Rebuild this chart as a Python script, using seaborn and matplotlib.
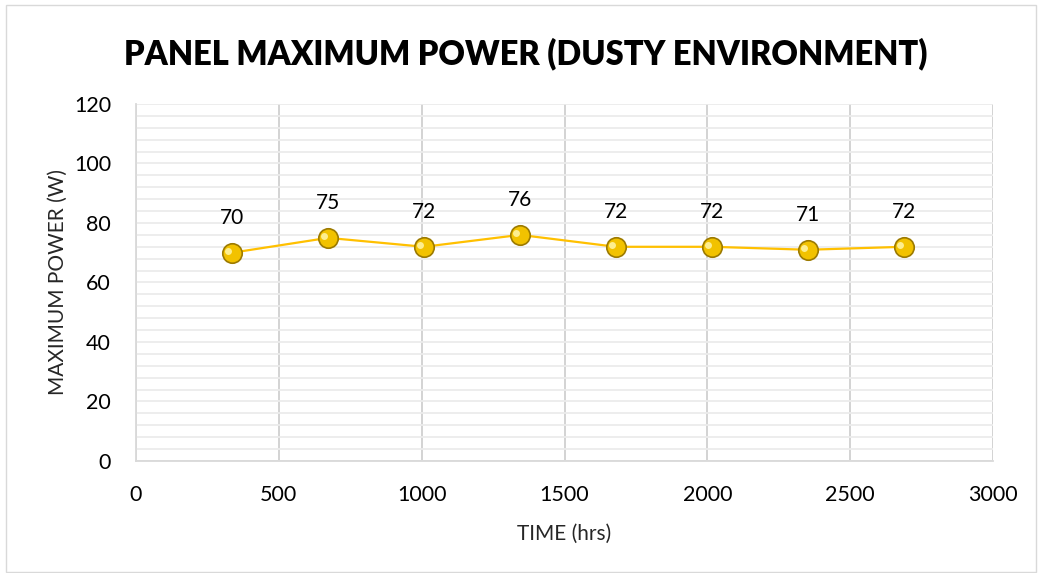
import numpy as np
import pandas as pd
import seaborn as sns
import matplotlib.pyplot as plt
from matplotlib.patches import Rectangle
from matplotlib.ticker import MultipleLocator

# data
time_hrs = [336, 672, 1008, 1344, 1680, 2016, 2352, 2688]
max_power = [70, 75, 72, 76, 72, 72, 71, 72]

df = pd.DataFrame({"time": time_hrs, "power": max_power})

sns.set_style("white")
plt.rcParams['font.family'] = ['Lato', 'DejaVu Sans']

fig = plt.figure(figsize=(10.4, 5.73), dpi=100)
ax = fig.add_axes([0.1308, 0.1955, 0.824, 0.623])

# chart border
fig.patches.append(Rectangle((0.006, 0.002), 0.99, 0.99, transform=fig.transFigure,
                             fill=False, edgecolor='#d9d9d9', linewidth=1))

sns.lineplot(data=df, x="time", y="power", ax=ax, color='#FFC000', linewidth=1.6,
             marker='o', markersize=14, markerfacecolor='#F2C200',
             markeredgecolor='#9C7A00', markeredgewidth=1.2, zorder=3)
# highlight on markers
ax.plot(df["time"] - 15, df["power"] + 0.6, 'o', markersize=5, color='#FFF3A0',
        markeredgewidth=0, alpha=0.9, zorder=4)

for t, p in zip(time_hrs, max_power):
    ax.annotate(str(p), (t, p), textcoords='offset points', xytext=(0, 25),
                ha='center', va='center', fontsize=15, color='black')

ax.set_xlim(0, 3000)
ax.set_ylim(0, 120)
ax.xaxis.set_major_locator(MultipleLocator(500))
ax.yaxis.set_major_locator(MultipleLocator(20))
ax.yaxis.set_minor_locator(MultipleLocator(4))

ax.grid(axis='x', which='major', color='#d0d0d0', linewidth=1.3)
ax.grid(axis='y', which='both', color='#ececec', linewidth=1.3)
ax.set_axisbelow(True)

for s in ['top', 'right']:
    ax.spines[s].set_visible(False)
for s in ['left', 'bottom']:
    ax.spines[s].set_color('#d9d9d9')
    ax.spines[s].set_linewidth(1.3)

ax.tick_params(axis='both', which='both', length=0, labelsize=15.5, colors='black')
ax.tick_params(axis='x', pad=17)
ax.tick_params(axis='y', pad=18)

ax.set_xlabel("TIME (hrs)", fontsize=15, labelpad=14)
ax.set_ylabel("MAXIMUM POWER (W)", fontsize=15, labelpad=4)
fig.suptitle("PANEL MAXIMUM POWER (DUSTY ENVIRONMENT)", fontsize=23.5, fontweight='heavy',
             color='black', x=0.506, y=0.935)

fig.savefig("out.png", dpi=100)
